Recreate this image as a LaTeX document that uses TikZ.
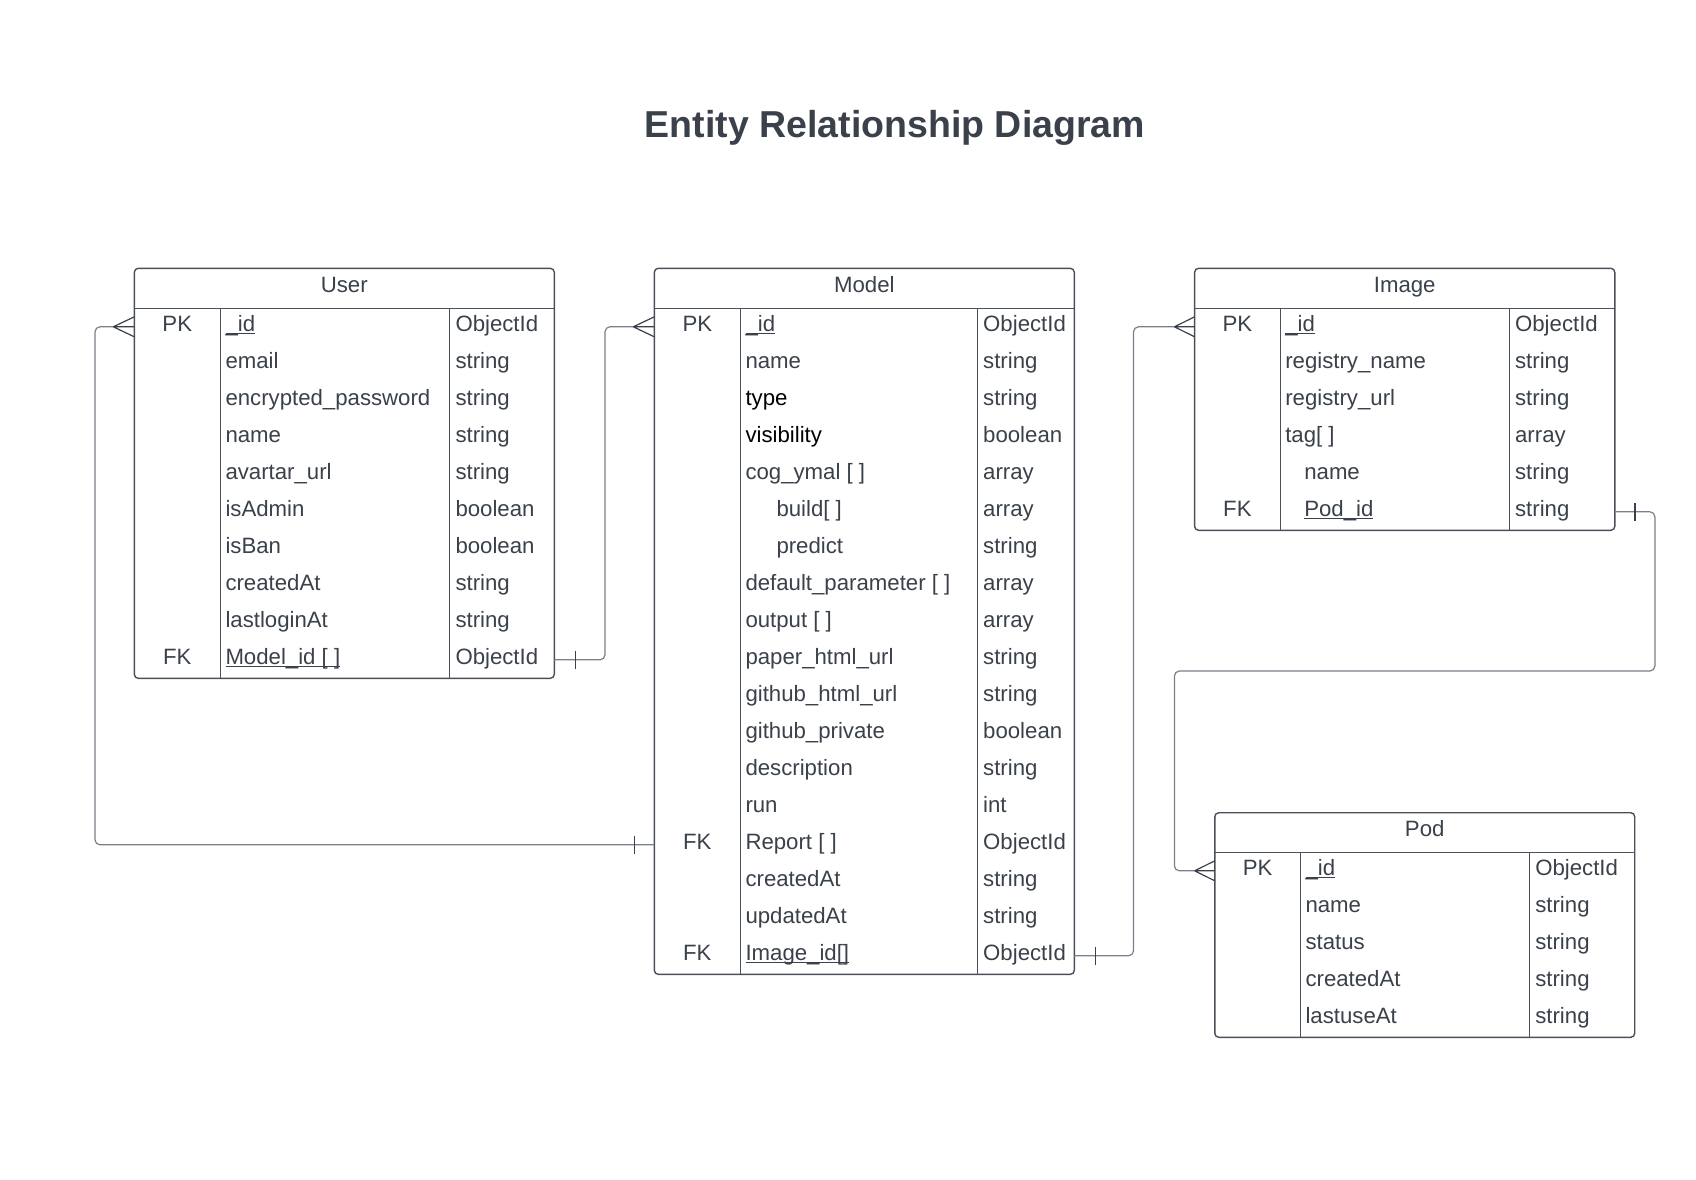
\documentclass[tikz,border=0pt]{standalone}
\usepackage{fontspec}
\setmainfont{Liberation Sans}
\definecolor{txt}{HTML}{3A414A}
\definecolor{boxc}{HTML}{4A5059}
\definecolor{conn}{HTML}{7A8089}
\newcommand\undl[1]{\setbox0\hbox{#1}\rlap{\raisebox{-3pt}{\rule{\wd0}{1.1pt}}}\box0}
\tikzset{
  entity/.style={draw=boxc, line width=1.4pt, rounded corners=4pt, inner sep=0pt, outer sep=0pt, anchor=north west},
  divider/.style={draw=boxc, line width=1.3pt},
  cell/.style={inner sep=0pt, text=txt, font=\fontsize{22.2}{26}\selectfont},
  keycell/.style={cell, anchor=base},
  namecell/.style={cell, anchor=base west},
  hdr/.style={cell, anchor=base},
  rel/.style={draw=conn, line width=1.2pt, rounded corners=5pt},
  endmark/.style={draw=txt, line width=1.2pt},
}
\begin{document}
\begin{tikzpicture}[x=1pt,y=-1pt]
\useasboundingbox[fill=white] (0,0) rectangle (1696,1179);
\node[anchor=base, inner sep=0pt, text=txt, font=\fontsize{37.5}{42}\selectfont\bfseries] (title) at (895,137.5) {Entity Relationship Diagram};

% ---------- User ----------
\node[entity, minimum width=420pt, minimum height=410pt] (user) at (134.3,268.3) {};
\draw[divider] (134.3,308.3) -- (554.3,308.3);
\draw[divider] (220.3,308.3) -- (220.3,678.3);
\draw[divider] (449.3,308.3) -- (449.3,678.3);
\node[hdr] (userT) at (344.3,292.7) {User};
\foreach \k/\n/\t [count=\i from 0] in {PK/\undl{\_id}/ObjectId, /email/string, /encrypted\_password/string, /name/string, /avartar\_url/string, /isAdmin/boolean, /isBan/boolean, /createdAt/string, /lastloginAt/string, FK/\undl{Model\_id [ ]}/ObjectId}{
  \node[keycell] (uk\i) at (177.3,331.3+37*\i) {\k};
  \node[namecell] (un\i) at (225.3,331.3+37*\i) {\n};
  \node[namecell] (ut\i) at (455.3,331.3+37*\i) {\t};
}

% ---------- Model ----------
\node[entity, minimum width=420pt, minimum height=706pt] (model) at (654.3,268.3) {};
\draw[divider] (654.3,308.3) -- (1074.3,308.3);
\draw[divider] (740.3,308.3) -- (740.3,974.3);
\draw[divider] (977.3,308.3) -- (977.3,974.3);
\node[hdr] (modelT) at (864.3,292.7) {Model};
\foreach \k/\n/\t [count=\i from 0] in {PK/\undl{\_id}/ObjectId, /name/string, /\textcolor{black}{type}/string, /\textcolor{black}{visibility}/boolean, /cog\_ymal [ ]/array, /\hspace{31pt}build[ ]/array, /\hspace{31pt}predict/string, /default\_parameter [ ]/array, /output [ ]/array, /paper\_html\_url/string, /github\_html\_url/string, /github\_private/boolean, /description/string, /run/int, FK/Report [ ]/ObjectId, /createdAt/string, /updatedAt/string, FK/\undl{Image\_id[]}/ObjectId}{
  \node[keycell] (mk\i) at (697.3,331.3+37*\i) {\k};
  \node[namecell] (mn\i) at (745.3,331.3+37*\i) {\n};
  \node[namecell] (mt\i) at (983,331.3+37*\i) {\t};
}

% ---------- Image ----------
\node[entity, minimum width=420.2pt, minimum height=262pt] (image) at (1194.6,268.3) {};
\draw[divider] (1194.6,308.3) -- (1614.8,308.3);
\draw[divider] (1280.2,308.3) -- (1280.2,530.3);
\draw[divider] (1509.3,308.3) -- (1509.3,530.3);
\node[hdr] (imageT) at (1404.7,292.7) {Image};
\foreach \k/\n/\t [count=\i from 0] in {PK/\undl{\_id}/ObjectId, /registry\_name/string, /registry\_url/string, /tag[ ]/array, /\hspace{19pt}name/string, FK/\hspace{19pt}\undl{Pod\_id}/string}{
  \node[keycell] (ik\i) at (1237.4,331.3+37*\i) {\k};
  \node[namecell] (in\i) at (1285.1,331.3+37*\i) {\n};
  \node[namecell] (it\i) at (1514.9,331.3+37*\i) {\t};
}

% ---------- Pod ----------
\node[entity, minimum width=419.9pt, minimum height=224.6pt] (pod) at (1214.8,812.7) {};
\draw[divider] (1214.8,852.3) -- (1634.7,852.3);
\draw[divider] (1300.4,852.3) -- (1300.4,1037.3);
\draw[divider] (1529.2,852.3) -- (1529.2,1037.3);
\node[hdr] (podT) at (1424.7,836.7) {Pod};
\foreach \k/\n/\t [count=\i from 0] in {PK/\undl{\_id}/ObjectId, /name/string, /status/string, /createdAt/string, /lastuseAt/string}{
  \node[keycell] (pk\i) at (1257.6,875.3+37*\i) {\k};
  \node[namecell] (pn\i) at (1305.3,875.3+37*\i) {\n};
  \node[namecell] (pt\i) at (1535.1,875.3+37*\i) {\t};
}

% ---------- connector end points ----------
\coordinate (uPK) at (134.3,326.8);
\coordinate (uFK) at (554.3,659.8);
\coordinate (mPK) at (654.3,326.8);
\coordinate (mRep) at (654.3,844.8);
\coordinate (mImg) at (1074.3,955.8);
\coordinate (iPK) at (1194.6,326.8);
\coordinate (iPod) at (1614.8,511.8);
\coordinate (pPK) at (1214.8,870.8);

% User.Model_id -> Model._id
\draw[rel] (uFK) -- (605,659.8) -- (605,326.8) -- ([xshift=-21pt]mPK);
\draw[endmark] ([xshift=21.4pt,yshift=-9pt]uFK) -- ([xshift=21.4pt,yshift=9pt]uFK);
\draw[endmark] ([xshift=-21pt]mPK) -- ([yshift=-10pt]mPK) ([xshift=-21pt]mPK) -- (mPK) ([xshift=-21pt]mPK) -- ([yshift=10pt]mPK);

% Model.Report -> User._id
\draw[rel] (mRep) -- (95,844.8) -- (95,326.8) -- ([xshift=-21pt]uPK);
\draw[endmark] ([xshift=-20pt,yshift=-9pt]mRep) -- ([xshift=-20pt,yshift=9pt]mRep);
\draw[endmark] ([xshift=-21pt]uPK) -- ([yshift=-10pt]uPK) ([xshift=-21pt]uPK) -- (uPK) ([xshift=-21pt]uPK) -- ([yshift=10pt]uPK);

% Model.Image_id -> Image._id
\draw[rel] (mImg) -- (1133.5,955.8) -- (1133.5,326.8) -- ([xshift=-20.2pt]iPK);
\draw[endmark] ([xshift=21.4pt,yshift=-9pt]mImg) -- ([xshift=21.4pt,yshift=9pt]mImg);
\draw[endmark] ([xshift=-20.2pt]iPK) -- ([yshift=-10pt]iPK) ([xshift=-20.2pt]iPK) -- (iPK) ([xshift=-20.2pt]iPK) -- ([yshift=10pt]iPK);

% Image.Pod_id -> Pod._id
\draw[rel] (iPod) -- (1654.9,511.8) -- (1654.9,671) -- (1174.4,671) -- (1174.4,870.8) -- ([xshift=-20.2pt]pPK);
\draw[endmark] ([xshift=20.2pt,yshift=-9pt]iPod) -- ([xshift=20.2pt,yshift=9pt]iPod);
\draw[endmark] ([xshift=-20.2pt]pPK) -- ([yshift=-10pt]pPK) ([xshift=-20.2pt]pPK) -- (pPK) ([xshift=-20.2pt]pPK) -- ([yshift=10pt]pPK);
\end{tikzpicture}
\end{document}
